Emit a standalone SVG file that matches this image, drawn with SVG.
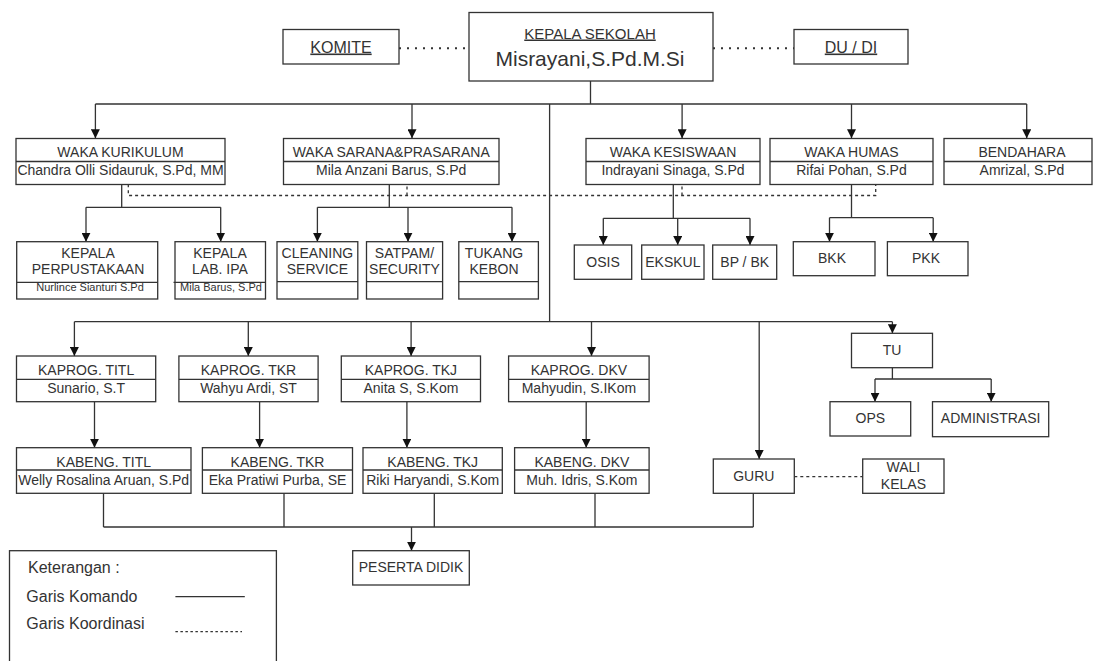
<svg xmlns="http://www.w3.org/2000/svg" width="1097" height="661" viewBox="0 0 1097 661">
<defs>
<style>
.b{fill:#fff;stroke:#333;stroke-width:1.3}
.d{stroke:#333;stroke-width:1.3;fill:none}
.t{font-family:"Liberation Sans",Arial,sans-serif;font-size:14px;fill:#333;text-anchor:middle}
.s{font-size:11px}
.u{text-decoration:underline}
.c{stroke:#333;stroke-width:1.3;fill:none}
.a{marker-end:url(#ah)}
.dash{stroke-dasharray:3 3}
.dot{stroke-width:2;stroke-dasharray:2 6}
.lg{font-family:"Liberation Sans",Arial,sans-serif;font-size:16px;fill:#333}
</style>
<marker id="ah" viewBox="0 0 10 10" refX="10" refY="5" markerWidth="9" markerHeight="9" markerUnits="userSpaceOnUse" orient="auto">
<path d="M0,0 L10,5 L0,10 Z" fill="#111"/>
</marker>
</defs>
<rect width="1097" height="661" fill="#fff"/>

<g id="connectors">
<path class="c dot" d="M399,48.3 H469"/>
<path class="c dot" d="M713,48.3 H794"/>
<path class="c" d="M590.5,81 V104 M95.4,104 H1026.7 M549.6,104 V321.7"/>
<path class="c a" d="M95.4,104 V138.3"/>
<path class="c a" d="M412,104 V138.3"/>
<path class="c a" d="M682.1,104 V138.3"/>
<path class="c a" d="M851.5,104 V138.3"/>
<path class="c a" d="M1026.7,104 V138.3"/>
<path class="c" d="M121.7,184.3 V207.3 M86,207.3 H220.7"/>
<path class="c a" d="M86,207.3 V241.7"/>
<path class="c a" d="M220.7,207.3 V241.7"/>
<path class="c" d="M389.3,184.3 V207.3 M317.4,207.3 H512"/>
<path class="c a" d="M317.4,207.3 V241.7"/>
<path class="c a" d="M408,207.3 V241.7"/>
<path class="c a" d="M512,207.3 V241.7"/>
<path class="c" d="M673.3,184.3 V218.3 M603.3,218.3 H750"/>
<path class="c a" d="M603.3,218.3 V245"/>
<path class="c a" d="M677.7,218.3 V245"/>
<path class="c a" d="M750,218.3 V245"/>
<path class="c" d="M851.5,184.3 V217.7 M829.5,217.7 H933.2"/>
<path class="c a" d="M829.5,217.7 V241.7"/>
<path class="c a" d="M933.2,217.7 V241.7"/>
<path class="c dash" d="M128.3,184.3 V195.5 H875.7 V184.3 M407,195.5 V184.3 M682,195.5 V184.3"/>
<path class="c" d="M74.4,321.7 H892.4"/>
<path class="c a" d="M74.4,321.7 V356"/>
<path class="c a" d="M248.3,321.7 V356"/>
<path class="c a" d="M411.1,321.7 V356"/>
<path class="c a" d="M591.5,321.7 V356"/>
<path class="c a" d="M759.2,321.7 V459"/>
<path class="c a" d="M892.4,321.7 V333.3"/>
<path class="c" d="M892.4,367.7 V379 M875,379 H991.2"/>
<path class="c a" d="M875,379 V401.7"/>
<path class="c a" d="M991.2,379 V401.7"/>
<path class="c a" d="M94.5,401.7 V447.7"/>
<path class="c a" d="M259.6,401.7 V447.7"/>
<path class="c a" d="M406.9,401.7 V447.7"/>
<path class="c a" d="M586.2,401.7 V447.7"/>
<path class="c" d="M103.5,493.3 V527 M284,493.3 V527 M434.3,493.3 V527 M595,493.3 V527 M753.3,493.3 V527 M103.5,527 H753.3"/>
<path class="c a" d="M411.5,527 V550.7"/>
<path class="c dash" d="M794.3,476.7 H862.7"/>
</g>

<g id="kepala-sekolah">
<rect class="b" x="469" y="12.5" width="244" height="68.5"/>
<text class="t u" x="590" y="38.5" style="font-size:15px">KEPALA SEKOLAH</text>
<text class="t" x="590" y="65.5" style="font-size:21px">Misrayani,S.Pd.M.Si</text>
</g>
<g id="komite">
<rect class="b" x="283" y="29.5" width="116" height="34.5"/>
<text class="t u" x="341" y="52.5" style="font-size:16px">KOMITE</text>
</g>
<g id="du-di">
<rect class="b" x="794" y="29.5" width="114" height="34.5"/>
<text class="t u" x="851" y="52.5" style="font-size:16px">DU / DI</text>
</g>

<g id="waka-kurikulum">
<rect class="b" x="16" y="138.5" width="209" height="46"/>
<path class="d" d="M16,161.5 H225"/>
<text class="t" x="120.5" y="156.5">WAKA KURIKULUM</text>
<text class="t" x="120.5" y="175">Chandra Olli Sidauruk, S.Pd, MM</text>
</g>
<g id="waka-sarana">
<rect class="b" x="283.5" y="138.5" width="215.5" height="46"/>
<path class="d" d="M283.5,161.5 H499"/>
<text class="t" x="391.2" y="156.5">WAKA SARANA&amp;PRASARANA</text>
<text class="t" x="391.2" y="175">Mila Anzani Barus, S.Pd</text>
</g>
<g id="waka-kesiswaan">
<rect class="b" x="586" y="138.5" width="174" height="46"/>
<path class="d" d="M586,161.5 H760"/>
<text class="t" x="673" y="156.5">WAKA KESISWAAN</text>
<text class="t" x="673" y="175">Indrayani Sinaga, S.Pd</text>
</g>
<g id="waka-humas">
<rect class="b" x="770" y="138.5" width="163" height="46"/>
<path class="d" d="M770,161.5 H933"/>
<text class="t" x="851.5" y="156.5">WAKA HUMAS</text>
<text class="t" x="851.5" y="175">Rifai Pohan, S.Pd</text>
</g>
<g id="bendahara">
<rect class="b" x="944" y="138.5" width="148" height="46"/>
<path class="d" d="M944,161.5 H1092"/>
<text class="t" x="1022" y="156.5">BENDAHARA</text>
<text class="t" x="1022" y="175">Amrizal, S.Pd</text>
</g>

<g id="kepala-perpustakaan">
<rect class="b" x="16.7" y="241.7" width="141" height="57.3"/>
<path class="d" d="M16.7,282.3 H157.7"/>
<text class="t" x="88" y="258.3">KEPALA</text>
<text class="t" x="88" y="274">PERPUSTAKAAN</text>
<text class="t s" x="90" y="291">Nurlince Sianturi S.Pd</text>
</g>
<g id="kepala-lab-ipa">
<rect class="b" x="175" y="241.7" width="90.5" height="57.3"/>
<path class="d" d="M173.5,282.3 H265.5"/>
<text class="t" x="220" y="258.3">KEPALA</text>
<text class="t" x="220" y="274">LAB. IPA</text>
<text class="t s" x="221" y="291">Mila Barus, S.Pd</text>
</g>
<g id="cleaning-service">
<rect class="b" x="277" y="241.7" width="80.8" height="57.3"/>
<path class="d" d="M277,281.7 H357.8"/>
<text class="t" x="317.4" y="258.3">CLEANING</text>
<text class="t" x="317.4" y="273.5">SERVICE</text>
</g>
<g id="satpam">
<rect class="b" x="366.5" y="241.7" width="76.1" height="57.3"/>
<path class="d" d="M366.5,281.7 H442.6"/>
<text class="t" x="404.5" y="258.3">SATPAM/</text>
<text class="t" x="404.5" y="273.5">SECURITY</text>
</g>
<g id="tukang-kebon">
<rect class="b" x="458.8" y="241.7" width="79.6" height="57.3"/>
<path class="d" d="M458.8,281.7 H538.4"/>
<text class="t" x="494" y="258.3">TUKANG</text>
<text class="t" x="494" y="273.5">KEBON</text>
</g>

<g id="osis">
<rect class="b" x="574.3" y="245" width="57.4" height="34.3"/>
<text class="t" x="603" y="266.5">OSIS</text>
</g>
<g id="ekskul">
<rect class="b" x="641.7" y="245" width="62.3" height="34.3"/>
<text class="t" x="672.9" y="266.5">EKSKUL</text>
</g>
<g id="bp-bk">
<rect class="b" x="712.7" y="245" width="64" height="34.3"/>
<text class="t" x="744.7" y="266.5">BP / BK</text>
</g>
<g id="bkk">
<rect class="b" x="793.3" y="241.7" width="81.7" height="34"/>
<text class="t" x="832" y="263">BKK</text>
</g>
<g id="pkk">
<rect class="b" x="887.4" y="241.7" width="80.6" height="34"/>
<text class="t" x="926" y="263">PKK</text>
</g>

<g id="kaprog-titl">
<rect class="b" x="16.5" y="356" width="139.2" height="45.7"/>
<path class="d" d="M16.5,379.3 H155.7"/>
<text class="t" x="86.1" y="375">KAPROG. TITL</text>
<text class="t" x="86.1" y="393">Sunario, S.T</text>
</g>
<g id="kaprog-tkr">
<rect class="b" x="178.9" y="356" width="139.2" height="45.7"/>
<path class="d" d="M178.9,379.3 H318.1"/>
<text class="t" x="248.5" y="375">KAPROG. TKR</text>
<text class="t" x="248.5" y="393">Wahyu Ardi, ST</text>
</g>
<g id="kaprog-tkj">
<rect class="b" x="341.3" y="356" width="139.2" height="45.7"/>
<path class="d" d="M341.3,379.3 H480.5"/>
<text class="t" x="410.9" y="375">KAPROG. TKJ</text>
<text class="t" x="410.9" y="393">Anita S, S.Kom</text>
</g>
<g id="kaprog-dkv">
<rect class="b" x="508.6" y="356" width="140.5" height="45.7"/>
<path class="d" d="M508.6,379.3 H649.1"/>
<text class="t" x="578.9" y="375">KAPROG. DKV</text>
<text class="t" x="578.9" y="393">Mahyudin, S.IKom</text>
</g>

<g id="kabeng-titl">
<rect class="b" x="16.5" y="447.7" width="174.5" height="45.6"/>
<path class="d" d="M16.5,470 H191"/>
<text class="t" x="103.7" y="467">KABENG. TITL</text>
<text class="t" x="103.7" y="485">Welly Rosalina Aruan, S.Pd</text>
</g>
<g id="kabeng-tkr">
<rect class="b" x="202.4" y="447.7" width="150.1" height="45.6"/>
<path class="d" d="M202.4,470 H352.5"/>
<text class="t" x="277.5" y="467">KABENG. TKR</text>
<text class="t" x="277.5" y="485">Eka Pratiwi Purba, SE</text>
</g>
<g id="kabeng-tkj">
<rect class="b" x="363" y="447.7" width="139.3" height="45.6"/>
<path class="d" d="M363,470 H502.3"/>
<text class="t" x="432.7" y="467">KABENG. TKJ</text>
<text class="t" x="432.7" y="485">Riki Haryandi, S.Kom</text>
</g>
<g id="kabeng-dkv">
<rect class="b" x="514.6" y="447.7" width="134.5" height="45.6"/>
<path class="d" d="M514.6,470 H649.1"/>
<text class="t" x="581.9" y="467">KABENG. DKV</text>
<text class="t" x="581.9" y="485">Muh. Idris, S.Kom</text>
</g>

<g id="tu">
<rect class="b" x="851.5" y="333.3" width="81" height="34.4"/>
<text class="t" x="892" y="354.5">TU</text>
</g>
<g id="ops">
<rect class="b" x="830" y="401.7" width="80.7" height="34.3"/>
<text class="t" x="870.4" y="423">OPS</text>
</g>
<g id="administrasi">
<rect class="b" x="932.5" y="401.7" width="116.2" height="35"/>
<text class="t" x="990.6" y="423.3">ADMINISTRASI</text>
</g>
<g id="guru">
<rect class="b" x="713.3" y="459" width="81" height="34.3"/>
<text class="t" x="753.8" y="480.5">GURU</text>
</g>
<g id="wali-kelas">
<rect class="b" x="862.7" y="459" width="81.3" height="34.3"/>
<text class="t" x="903.4" y="472">WALI</text>
<text class="t" x="903.4" y="489.3">KELAS</text>
</g>
<g id="peserta-didik">
<rect class="b" x="352.7" y="550.7" width="116.6" height="34.3"/>
<text class="t" x="411" y="572">PESERTA DIDIK</text>
</g>

<g id="keterangan">
<rect class="b" x="9.5" y="550.7" width="266.9" height="120"/>
<text class="lg" x="28" y="573.3">Keterangan :</text>
<text class="lg" x="26.3" y="601.7">Garis Komando</text>
<text class="lg" x="26.3" y="629.3">Garis Koordinasi</text>
<path class="c" d="M175.4,596.7 H244.8"/>
<path class="c" style="stroke-dasharray:2.5 2.5" d="M175.4,631.7 H242"/>
</g>
</svg>
